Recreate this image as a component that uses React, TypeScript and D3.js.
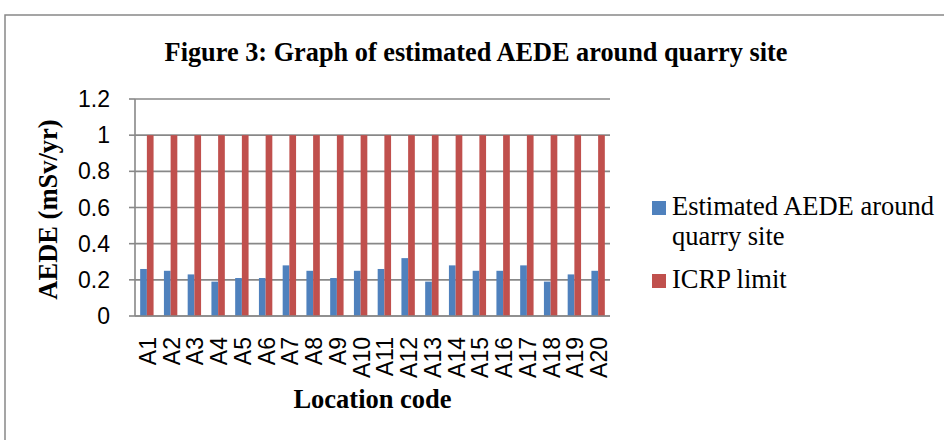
import React from "react";
import * as d3 from "d3";

const categories = ["A1","A2","A3","A4","A5","A6","A7","A8","A9","A10","A11","A12","A13","A14","A15","A16","A17","A18","A19","A20"];
const estimatedAEDE = [0.26,0.25,0.23,0.19,0.21,0.21,0.28,0.25,0.21,0.25,0.26,0.32,0.19,0.28,0.25,0.25,0.28,0.19,0.23,0.25];
const icrpLimit = [1,1,1,1,1,1,1,1,1,1,1,1,1,1,1,1,1,1,1,1];
const yTicks = [0, 0.2, 0.4, 0.6, 0.8, 1, 1.2];
const seriesNames = ["Estimated AEDE around quarry site", "ICRP limit"];

const W = 944, H = 440;
const left = 135, right = 610, top = 99, bottom = 316;
const BLUE = "#4F81BD", RED = "#C0504D", GRID = "#888888";
const serif = "'Liberation Serif', 'Times New Roman', serif";
const sans = "'Liberation Sans', Arial, sans-serif";

export default function App() {
  const x = d3.scaleBand<string>().domain(categories).range([left, right]).paddingInner(0).paddingOuter(0);
  const y = d3.scaleLinear().domain([0, 1.2]).range([bottom, top]);
  const bw = x.bandwidth();
  const barW = 6.7;
  const groupOff = (bw - 2 * barW) / 2;

  return (
    <svg width={W} height={H} style={{ position: "absolute", left: 0, top: 0, background: "#fff" }}>
      <rect x={5} y={15} width={1000} height={500} fill="#fff" stroke={GRID} strokeWidth={1.5} />
      <text x={476} y={61} textAnchor="middle" fontFamily={serif} fontWeight="bold" fontSize={26.3}>
        Figure 3: Graph of estimated AEDE around quarry site
      </text>
      {yTicks.map((t) => (
        <g key={t}>
          <line x1={left} x2={right} y1={y(t)} y2={y(t)} stroke={GRID} strokeWidth={1.6} />
          <line x1={left - 6} x2={left} y1={y(t)} y2={y(t)} stroke={GRID} strokeWidth={1.6} />
          <text x={110} y={y(t)} dy="0.35em" textAnchor="end" fontFamily={sans} fontSize={23} fill="#000">
            {d3.format("~g")(t)}
          </text>
        </g>
      ))}
      <line x1={left} x2={left} y1={top} y2={bottom} stroke={GRID} strokeWidth={1.6} />
      {categories.map((c, i) => (
        <g key={c}>
          <rect x={(x(c) as number) + groupOff} y={y(estimatedAEDE[i])} width={barW} height={bottom - y(estimatedAEDE[i])} fill={BLUE} />
          <rect x={(x(c) as number) + groupOff + barW} y={y(icrpLimit[i])} width={barW} height={bottom - y(icrpLimit[i])} fill={RED} />
          <text
            transform={`translate(${(x(c) as number) + bw / 2 + 1},337) rotate(-90)`}
            textAnchor="end"
            dy="0.35em"
            fontFamily={sans}
            fontSize={23}
            fill="#000"
          >
            {c}
          </text>
        </g>
      ))}
      <line x1={left} x2={right} y1={bottom} y2={bottom} stroke={GRID} strokeWidth={1.6} />
      <text transform={`translate(57,${(top + bottom) / 2 + 2}) rotate(-90)`} textAnchor="middle" fontFamily={serif} fontWeight="bold" fontSize={26.5}>
        AEDE (mSv/yr)
      </text>
      <text x={(left + right) / 2} y={408} textAnchor="middle" fontFamily={serif} fontWeight="bold" fontSize={26.5}>
        Location code
      </text>
      <rect x={652} y={201} width={14} height={14} fill={BLUE} />
      <text x={672} y={215} fontFamily={serif} fontSize={26.5}>Estimated AEDE around</text>
      <text x={672} y={245} fontFamily={serif} fontSize={26.5}>quarry site</text>
      <rect x={652} y={274} width={14} height={14} fill={RED} />
      <text x={672} y={288} fontFamily={serif} fontSize={26.5}>{seriesNames[1]}</text>
    </svg>
  );
}
